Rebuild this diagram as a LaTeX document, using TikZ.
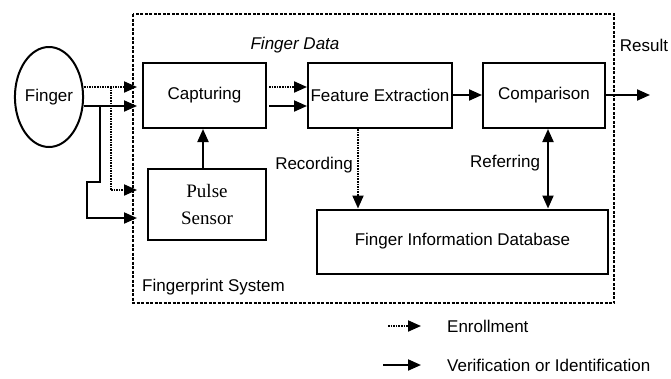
\documentclass[tikz,border=0pt]{standalone}
\usepackage{fontspec}
\setmainfont{Liberation Sans}
\newfontfamily\serifface{Liberation Serif}
\usetikzlibrary{arrows.meta,shapes.geometric}
\begin{document}
\begin{tikzpicture}[x=1pt,y=-1pt,
  font=\fontsize{17}{19}\selectfont,
  blk/.style={draw,line width=2pt,inner sep=0pt,align=center},
  arr/.style={line width=2pt,-{Triangle[length=13pt,width=11pt]}},
  biarr/.style={line width=2pt,{Triangle[length=13pt,width=11pt]}-{Triangle[length=13pt,width=11pt]}},
  enr/.style={arr,dash pattern=on 1.6pt off 1pt},
  plainline/.style={line width=2pt},
  enrline/.style={line width=2pt,dash pattern=on 1.6pt off 1pt},
  sysline/.style={line width=1.8pt,dash pattern=on 3pt off 1.5pt},
  lbl/.style={inner sep=0pt}]
\fill[white] (0,0) rectangle (671,378);
\useasboundingbox (0,0) rectangle (671,378);
% system boundary
\draw[sysline] (133,14) rectangle (614,303);
% nodes
\node[blk,ellipse,minimum width=68pt,minimum height=100pt] (finger) at (49,97) {Finger};
\node[blk,minimum width=123pt,minimum height=65pt] (cap) at (204.5,95.5) {Capturing};
\node[blk,minimum width=144pt,minimum height=65pt] (feat) at (380,95.5) {Feature Extraction};
\node[blk,minimum width=122pt,minimum height=65pt] (comp) at (544,95.5) {Comparison};
\node[blk,minimum width=118pt,minimum height=71pt,font=\serifface\fontsize{19}{27}\selectfont] (pulse) at (207,204.5) {Pulse\\Sensor};
\node[blk,minimum width=291pt,minimum height=64pt] (db) at (462.5,241.5) {Finger Information Database};
% coordinates
\coordinate (b1) at (137,87);
\coordinate (b2) at (137,106);
\coordinate (j1) at (111,87);
\coordinate (j2) at (100,106);
\coordinate (b3) at (137,190);
\coordinate (b4) at (137,218);
\coordinate (res) at (650,95);
% finger inputs
\draw[enr] (finger.east |- b1) -- (b1);
\draw[enrline] (j1) -- (j1 |- b3);
\draw[enr] (j1 |- b3) -- (b3);
\draw[arr] (finger.east |- b2) -- (b2);
\draw[arr] (j2) -- (100,182) -- (87,182) -- (87 ,218) -- (b4);
% main flow
\draw[enr] ([yshift=8.5pt,xshift=2pt]cap.east) -- ([yshift=8.5pt]feat.west);
\draw[arr] ([yshift=-10.5pt,xshift=2pt]cap.east) -- ([yshift=-10.5pt]feat.west);
\draw[arr] ([yshift=0.5pt]feat.east) -- ([yshift=0.5pt]comp.west);
\draw[arr] ([yshift=0.5pt]comp.east) -- (res);
\draw[arr] ([xshift=-4pt]pulse.north) -- ([xshift=-4pt]pulse.north |- cap.south);
\draw[enr] ([xshift=-22pt]feat.south) -- ([xshift=-22pt]feat.south |- db.north);
\draw[biarr] ([xshift=4pt]comp.south) -- ([xshift=4pt]comp.south |- db.north);
% labels
\node[lbl,font=\fontsize{17}{19}\selectfont\itshape] (fdata) at (295,45) {Finger Data};
\node[lbl] (result) at (644,45) {Result};
\node[lbl] (rec) at (314,165) {Recording};
\node[lbl] (ref) at (505,163) {Referring};
\node[lbl,anchor=west] (fsys) at (142,287) {Fingerprint System};
% legend
\coordinate (le1) at (388,326);
\coordinate (le2) at (421,326);
\coordinate (lv1) at (383,365);
\coordinate (lv2) at (421,365);
\draw[enr] (le1) -- (le2);
\draw[arr] (lv1) -- (lv2);
\node[lbl,anchor=west] (lenr) at (447,326) {Enrollment};
\node[lbl,anchor=west] (lver) at (447,365) {Verification or Identification};
\end{tikzpicture}
\end{document}
